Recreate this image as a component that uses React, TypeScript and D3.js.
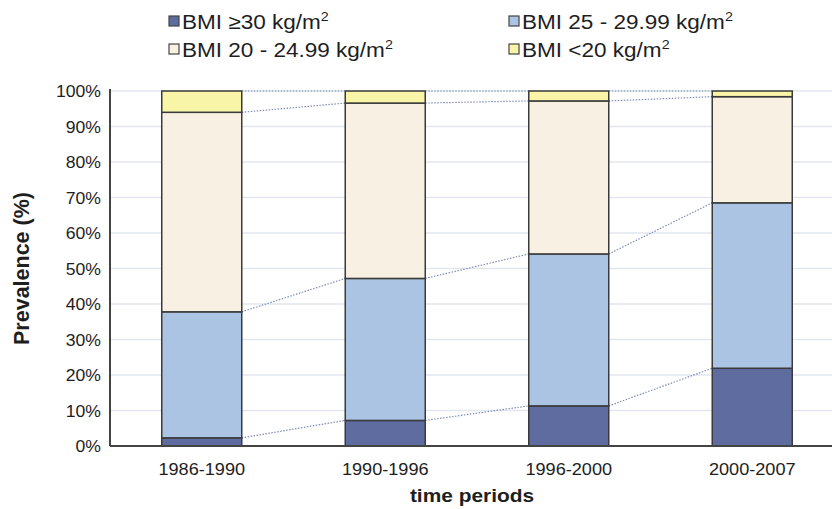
import React from "react";
import * as d3 from "d3";

const periods = ["1986-1990", "1990-1996", "1996-2000", "2000-2007"];
const obese = [2.3, 7.2, 11.3, 21.9];
const overweight = [35.5, 40.0, 42.8, 46.6];
const normal = [56.2, 49.4, 43.1, 29.9];
const underweight = [6.0, 3.4, 2.8, 1.6];
const yTicks = [0, 10, 20, 30, 40, 50, 60, 70, 80, 90, 100];

const seriesKeys = ["obese", "overweight", "normal", "underweight"];
const seriesColors = ["#5f6c9f", "#abc4e4", "#f8f1e3", "#f8f4a8"];
const legendLabels = ["BMI \u226530 kg/m", "BMI 25 - 29.99 kg/m", "BMI 20 - 24.99 kg/m", "BMI <20 kg/m"];

const W = 832, H = 509;
const left = 110, right = 844, top = 91, bottom = 446;
const font = "Liberation Sans, Arial, Helvetica, sans-serif";
const SX = 1.1;

function T({ x, y, size, anchor = "start", bold = false, children }: any) {
  return (
    <text transform={`translate(${x},${y}) scale(${SX},1)`} textAnchor={anchor} fontFamily={font}
      fontSize={size} fontWeight={bold ? "bold" : "normal"} fill="#1e1e1e">
      {children}
    </text>
  );
}

export default function App() {
  const rows = periods.map((p, i) => ({
    period: p,
    obese: obese[i],
    overweight: overweight[i],
    normal: normal[i],
    underweight: underweight[i],
  }));
  const stack = d3.stack<any>().keys(seriesKeys)(rows);
  const x = d3.scaleBand().domain(periods).range([left, right]).paddingInner(0.564).paddingOuter(0.282);
  const y = d3.scaleLinear().domain([0, 100]).range([bottom, top]);
  const bw = x.bandwidth();

  const connectors: any[] = [];
  stack.forEach((s, si) => {
    for (let i = 0; i < periods.length - 1; i++) {
      const y1 = y(Math.min(100, s[i][1]));
      const y2 = y(Math.min(100, s[i + 1][1]));
      connectors.push(
        <line key={`c${si}-${i}`} x1={x(periods[i])! + bw} y1={y1} x2={x(periods[i + 1])!} y2={y2}
          stroke="#7d8db5" strokeWidth={1.2} strokeDasharray="1.5,1.5" />
      );
    }
  });

  return (
    <svg width={W} height={H} style={{ position: "absolute", left: 0, top: 0 }}>
      <rect width={W} height={H} fill="#fff" />
      {legendLabels.map((lab, i) => {
        const col = i % 2;
        const row = Math.floor(i / 2);
        const lx = col === 0 ? 169 : 509;
        const ly = row === 0 ? 21 : 49;
        return (
          <g key={lab}>
            <rect x={lx} y={ly - 5} width={10} height={10} fill={seriesColors[i]} stroke="#444" strokeWidth={1.2} />
            <T x={lx + 13} y={ly + 7.5} size={20.5}>
              {lab}
              <tspan fontSize={13} dy={-8}>2</tspan>
            </T>
          </g>
        );
      })}
      {yTicks.map((t) => (
        <line key={t} x1={left} x2={W} y1={y(t)} y2={y(t)} stroke="#e2e7ef" strokeWidth={1.5} />
      ))}
      {yTicks.map((t) => (
        <T key={"l" + t} x={101} y={y(t) + 6} size={16} anchor="end">
          {t}%
        </T>
      ))}
      {connectors}
      {stack.map((s, si) =>
        s.map((d, i) => (
          <rect key={`b${si}-${i}`} x={x(periods[i])} y={y(d[1])} width={bw} height={y(d[0]) - y(d[1])}
            fill={seriesColors[si]} stroke="#3a3a3a" strokeWidth={1.5} />
        ))
      )}
      <line x1={left} x2={left} y1={top - 2} y2={bottom} stroke="#444" strokeWidth={2} />
      <line x1={left} x2={W} y1={bottom} y2={bottom} stroke="#444" strokeWidth={2} />
      {periods.map((p) => (
        <T key={p} x={x(p)! + bw / 2} y={475} size={16.5} anchor="middle">
          {p}
        </T>
      ))}
      <T x={472} y={502} size={19} anchor="middle" bold>
        time periods
      </T>
      <text transform={`translate(29,${(top + bottom) / 2}) rotate(-90)`} textAnchor="middle" fontFamily={font}
        fontSize={21.5} fontWeight="bold" fill="#1e1e1e">
        Prevalence (%)
      </text>
    </svg>
  );
}
